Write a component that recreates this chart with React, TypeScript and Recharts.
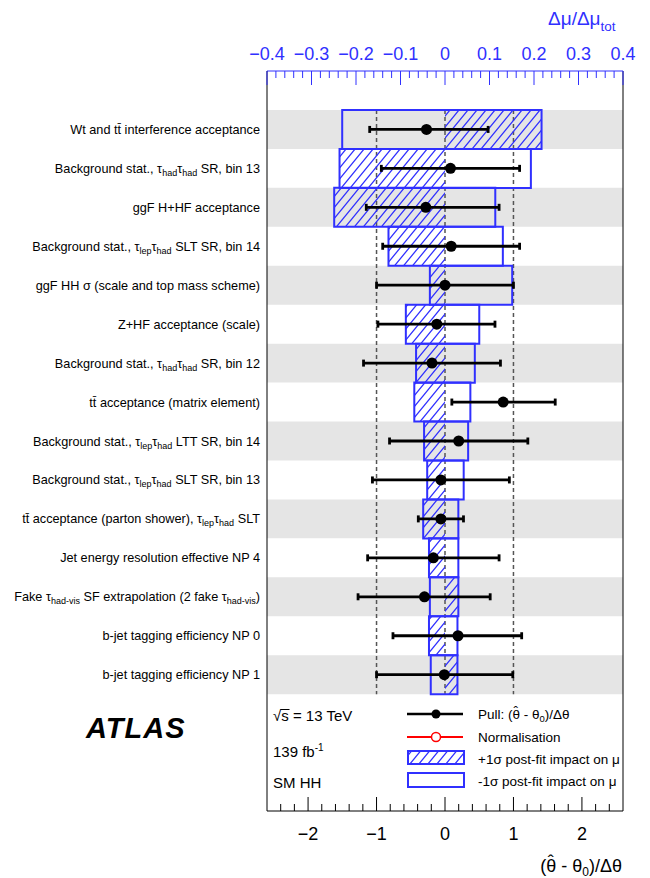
import React from 'react';
import {
  ComposedChart,
  Bar,
  Line,
  ErrorBar,
  XAxis,
  YAxis,
  ReferenceArea,
  ReferenceLine,
} from 'recharts';

// nuisance parameters, top to bottom
const labels = [
  'Wt and tt\u0304 interference acceptance',
  'Background stat., τ_{had}τ_{had} SR, bin 13',
  'ggF H+HF acceptance',
  'Background stat., τ_{lep}τ_{had} SLT SR, bin 14',
  'ggF HH σ (scale and top mass scheme)',
  'Z+HF acceptance (scale)',
  'Background stat., τ_{had}τ_{had} SR, bin 12',
  'tt\u0304 acceptance (matrix element)',
  'Background stat., τ_{lep}τ_{had} LTT SR, bin 14',
  'Background stat., τ_{lep}τ_{had} SLT SR, bin 13',
  'tt\u0304 acceptance (parton shower), τ_{lep}τ_{had} SLT',
  'Jet energy resolution effective NP 4',
  'Fake τ_{had-vis} SF extrapolation (2 fake τ_{had-vis})',
  'b-jet tagging efficiency NP 0',
  'b-jet tagging efficiency NP 1',
];

// pull (theta_hat - theta0)/dtheta and its error bar ends
const pull = [-0.27, 0.08, -0.28, 0.09, 0.0, -0.12, -0.19, 0.85, 0.2, -0.06, -0.06, -0.17, -0.3, 0.19, -0.01];
const pullLo = [-1.1, -0.93, -1.15, -0.91, -1.0, -0.98, -1.19, 0.1, -0.81, -1.06, -0.39, -1.13, -1.27, -0.76, -1.0];
const pullHi = [0.63, 1.09, 0.79, 1.09, 1.0, 0.73, 0.81, 1.61, 1.21, 0.94, 0.27, 0.79, 0.66, 1.12, 0.99];

// post-fit impact on mu, +1 sigma (hatched) and -1 sigma (open)
const impactUp = [0.217, -0.237, -0.249, -0.127, -0.034, -0.088, -0.065, -0.069, -0.047, -0.04, -0.049, -0.036, 0.03, -0.036, 0.028];
const impactDown = [-0.231, 0.193, 0.113, 0.13, 0.151, 0.077, 0.067, 0.057, 0.052, 0.042, 0.03, 0.03, -0.034, 0.028, -0.032];

const impactMajor = [-0.4, -0.3, -0.2, -0.1, 0, 0.1, 0.2, 0.3, 0.4];
const pullMajor = [-2, -1, 0, 1, 2];
const pullLines = [-1, 0, 1];

const impactTicks = Array.from({ length: 41 }, (_, i) => +(-0.4 + i * 0.02).toFixed(2));
const pullTicks = Array.from({ length: 25 }, (_, i) => +(-2.4 + i * 0.2).toFixed(1));

const BLUE = '#3030ff';
const FONT = '"Liberation Sans", Arial, Helvetica, sans-serif';

// one empty slot above, three below for the legend
const rows = [
  { key: 'top' },
  ...labels.map((label, i) => ({
    key: 'r' + i,
    label,
    pull: pull[i],
    pullErr: [pull[i] - pullLo[i], pullHi[i] - pull[i]],
    up: impactUp[i],
    down: impactDown[i],
  })),
  { key: 'b1' },
  { key: 'b2' },
  { key: 'b3' },
];
const labelByKey: Record<string, string> = {};
rows.forEach((r: any) => { if (r.label) labelByKey[r.key] = r.label; });
const firstRow = 'r0';
const lastRow = 'r' + (labels.length - 1);

const fmt = (v: number) => String(v).replace('-', '\u2212');

// "a_{b}" -> subscript tspans
function richText(s: string, subSize: number, shift: number) {
  const parts = s.split(/_\{([^}]*)\}/);
  let cur = 0;
  const out: React.ReactNode[] = [];
  parts.forEach((p, i) => {
    const isSub = i % 2 === 1;
    const target = isSub ? shift : 0;
    if (!p) return;
    const dy = target - cur;
    cur = target;
    out.push(
      <tspan key={i} dy={dy} fontSize={isSub ? subSize : undefined}>
        {p}
      </tspan>
    );
  });
  return out;
}

const RowTick = (props: any) => {
  const { x, y, payload } = props;
  const label = labelByKey[payload.value];
  if (!label) return <g />;
  return (
    <text x={x} y={y + 4.5} textAnchor="end" fontSize={12.7} fontFamily={FONT} fill="#000">
      {richText(label, 9, 3)}
    </text>
  );
};

const ImpactTick = (props: any) => {
  const { x, y, payload } = props;
  const v = payload.value;
  const major = impactMajor.some((m) => Math.abs(m - v) < 1e-6);
  return (
    <g>
      <line x1={x} x2={x} y1={y} y2={y + (major ? 14 : 7)} stroke={BLUE} strokeWidth={1} />
      {major && (
        <text x={x} y={y - 11} textAnchor="middle" fontSize={18} fontFamily={FONT} fill={BLUE}>
          {fmt(v)}
        </text>
      )}
    </g>
  );
};

const PullTick = (props: any) => {
  const { x, y, payload } = props;
  const v = payload.value;
  const major = pullMajor.some((m) => Math.abs(m - v) < 1e-6);
  return (
    <g>
      <line x1={x} x2={x} y1={y} y2={y - (major ? 14 : 7)} stroke="#000" strokeWidth={1} />
      {major && (
        <text x={x} y={y + 29} textAnchor="middle" fontSize={18} fontFamily={FONT} fill="#000">
          {fmt(v)}
        </text>
      )}
    </g>
  );
};

// dashed guide drawn from a zero-width reference area spanning the parameter rows
const GuideLine = (props: any) => {
  const { x, y, height } = props;
  if (x == null || y == null || !height) return <g />;
  return (
    <line x1={x} x2={x} y1={y} y2={y + height} stroke="#555" strokeDasharray="4 3" strokeWidth={1.5} />
  );
};

// box without the edge at zero
const impactBox = (field: string, hatched: boolean) => (props: any) => {
  const { x, y, width, height, payload } = props;
  const v = payload ? payload[field] : undefined;
  if (v == null || !width) return <g />;
  const x0 = Math.min(x, x + width);
  const w = Math.abs(width);
  const y0 = Math.min(y, y + height);
  const h = Math.abs(height);
  const d = v > 0
    ? `M${x0},${y0} L${x0 + w},${y0} L${x0 + w},${y0 + h} L${x0},${y0 + h}`
    : `M${x0 + w},${y0} L${x0},${y0} L${x0},${y0 + h} L${x0 + w},${y0 + h}`;
  return (
    <g>
      {hatched && <rect x={x0} y={y0} width={w} height={h} fill="url(#hatch)" />}
      <path d={d} fill="none" stroke={BLUE} strokeWidth={2} />
    </g>
  );
};

const hatchPattern = (id: string) => (
  <pattern id={id} patternUnits="userSpaceOnUse" width={9} height={11}>
    <path d="M0,11 L9,0 M-1,1.22 L1,-1.22 M8,12.22 L10,9.78" stroke={BLUE} strokeWidth={1.3} />
  </pattern>
);

const Overlay = () => (
  <svg width={650} height={878} style={{ position: 'absolute', left: 0, top: 0, pointerEvents: 'none' }}>
    <defs>{hatchPattern('hatch2')}</defs>
    <text x={548} y={25} fontSize={19} fontFamily={FONT} fill={BLUE}>
      Δμ/Δμ<tspan dy={6} fontSize={13.5}>tot</tspan>
    </text>
    <text x={622} y={872} textAnchor="end" fontSize={18} fontFamily={FONT} fill="#000">
      (θ<tspan dx={-8.5} dy={-4}>ˆ</tspan>
      <tspan dx={2.5} dy={4}> - θ</tspan>
      <tspan dy={4} fontSize={12}>0</tspan>
      <tspan dy={-4}>)/Δθ</tspan>
    </text>
    <text x={86} y={738} fontSize={29} fontWeight="bold" fontStyle="italic" fontFamily={FONT} letterSpacing={1} fill="#000">
      ATLAS
    </text>
    <text x={273} y={721} fontSize={15} fontFamily={FONT} fill="#000">√s = 13 TeV</text>
    <line x1={280.5} x2={289.5} y1={709.5} y2={709.5} stroke="#000" strokeWidth={1} />
    <text x={273} y={757} fontSize={15} fontFamily={FONT} fill="#000">
      139 fb<tspan dy={-6} fontSize={10}>-1</tspan>
    </text>
    <text x={273} y={788} fontSize={15} fontFamily={FONT} fill="#000">SM HH</text>

    <line x1={407} x2={463} y1={714} y2={714} stroke="#000" strokeWidth={2.5} />
    <circle cx={436} cy={714} r={4.5} fill="#000" />
    <line x1={407} x2={463} y1={737} y2={737} stroke="#ff0000" strokeWidth={2} />
    <circle cx={436} cy={737} r={4.5} fill="#fff" stroke="#ff0000" strokeWidth={1.5} />
    <rect x={408} y={751} width={56} height={13} fill="url(#hatch2)" stroke={BLUE} strokeWidth={2} />
    <rect x={408} y={773} width={56} height={14} fill="none" stroke={BLUE} strokeWidth={2} />

    <g fontSize={13.5} fontFamily={FONT} fill="#000">
      <text x={478} y={719}>
        Pull: (θ<tspan dx={-6.5} dy={-3}>ˆ</tspan>
        <tspan dx={2} dy={3}> - θ</tspan>
        <tspan dy={3} fontSize={9.5}>0</tspan>
        <tspan dy={-3}>)/Δθ</tspan>
      </text>
      <text x={478} y={742}>Normalisation</text>
      <text x={478} y={764}>+1σ post-fit impact on μ</text>
      <text x={478} y={786}>-1σ post-fit impact on μ</text>
    </g>
  </svg>
);

export default function App() {
  return (
    <div style={{ position: 'absolute', left: 0, top: 0, width: 650, height: 878, background: '#fff' }}>
      <ComposedChart
        width={650}
        height={878}
        layout="vertical"
        data={rows}
        margin={{ top: 0, right: 27, bottom: 0, left: 0 }}
        barCategoryGap={0}
        stackOffset="sign"
      >
        <defs>{hatchPattern('hatch')}</defs>
        <XAxis
          xAxisId="impact"
          orientation="top"
          type="number"
          domain={[-0.4, 0.4]}
          allowDataOverflow
          ticks={impactTicks}
          interval={0}
          height={71}
          tickSize={0}
          tickMargin={0}
          tickLine={false}
          axisLine={{ stroke: BLUE }}
          tick={ImpactTick}
        />
        <XAxis
          xAxisId="pull"
          orientation="bottom"
          type="number"
          domain={[-2.6, 2.6]}
          allowDataOverflow
          ticks={pullTicks}
          interval={0}
          height={67}
          tickSize={0}
          tickMargin={0}
          tickLine={false}
          axisLine={{ stroke: '#000' }}
          tick={PullTick}
        />
        <YAxis
          type="category"
          dataKey="key"
          width={267}
          interval={0}
          tickSize={0}
          tickMargin={7}
          tickLine={false}
          axisLine={{ stroke: '#000' }}
          tick={RowTick}
        />
        {labels.map((_, i) =>
          i % 2 === 0 ? (
            <ReferenceArea key={'band' + i} xAxisId="impact" y1={'r' + i} y2={'r' + i} fill="#e5e5e5" fillOpacity={1} stroke="none" />
          ) : null
        )}
        {pullLines.map((v) => (
          <ReferenceArea
            key={'pl' + v}
            xAxisId="pull"
            x1={v}
            x2={v}
            y1={firstRow}
            y2={lastRow}
            shape={GuideLine}
          />
        ))}
        <ReferenceLine xAxisId="impact" x={0.4} stroke="#000" strokeWidth={1} />
        <Bar dataKey="up" xAxisId="impact" stackId="imp" shape={impactBox('up', true)} isAnimationActive={false} />
        <Bar dataKey="down" xAxisId="impact" stackId="imp" shape={impactBox('down', false)} isAnimationActive={false} />
        <Line
          dataKey="pull"
          xAxisId="pull"
          stroke="none"
          dot={{ r: 5.5, fill: '#000', stroke: '#000', strokeWidth: 0 }}
          activeDot={false}
          isAnimationActive={false}
        >
          <ErrorBar dataKey="pullErr" direction="x" width={3.5} strokeWidth={2.8} stroke="#000" isAnimationActive={false} />
        </Line>
      </ComposedChart>
      <Overlay />
    </div>
  );
}
